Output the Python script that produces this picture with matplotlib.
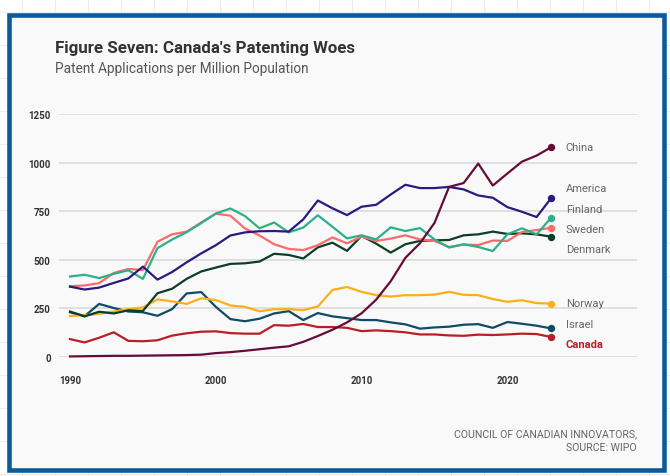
import matplotlib
matplotlib.use('Agg')
import matplotlib.pyplot as plt
from matplotlib.patches import Rectangle

plt.rcParams['font.family'] = ['Roboto', 'DejaVu Sans']

# Patent applications per million population, 1990-2023
years = list(range(1990, 2024))
china = [3, 4, 5, 6, 6, 7, 8, 9, 10, 12, 20, 25, 32, 40, 48, 55, 78, 108, 140, 178,
         225, 295, 390, 510, 585, 690, 875, 895, 995, 882, 944, 1005, 1036, 1079]
america = [362, 347, 357, 381, 404, 465, 398, 437, 487, 533, 575, 625, 641, 647, 648, 645, 708,
           805, 765, 730, 773, 783, 836, 886, 869, 869, 875, 862, 831, 819, 771, 747, 720, 817]
finland = [414, 423, 406, 428, 446, 402, 560, 604, 642, 689, 738, 764, 725, 662, 692, 641, 666,
           729, 670, 610, 626, 605, 667, 648, 663, 605, 563, 580, 566, 545, 631, 662, 631, 716]
sweden = [364, 368, 380, 432, 453, 447, 593, 631, 645, 692, 737, 727, 661, 625, 580, 556, 550,
          575, 615, 585, 619, 597, 609, 626, 605, 597, 566, 578, 576, 599, 597, 643, 653, 665]
denmark = [234, 209, 233, 224, 240, 237, 328, 351, 402, 440, 460, 479, 482, 491, 531, 525, 507,
           564, 588, 546, 623, 583, 537, 580, 597, 600, 602, 626, 631, 645, 633, 636, 631, 619]
norway = [211, 215, 222, 234, 246, 255, 296, 286, 273, 302, 293, 265, 258, 235, 246, 246, 241,
          260, 345, 360, 335, 318, 311, 318, 318, 321, 335, 320, 318, 298, 284, 292, 277, 275]
israel = [230, 210, 273, 252, 234, 230, 212, 246, 327, 334, 258, 195, 184, 197, 224, 236, 190,
          226, 209, 200, 190, 190, 178, 168, 146, 152, 156, 166, 169, 150, 180, 171, 161, 147]
canada = [92, 75, 99, 127, 83, 81, 86, 110, 122, 130, 132, 123, 120, 120, 164, 161, 170,
          154, 154, 150, 133, 137, 133, 127, 116, 116, 111, 109, 115, 113, 116, 120, 118, 103]

series = [
    ('China', china, '#650d38', 1080),
    ('America', america, '#2b1a7e', 869),
    ('Finland', finland, '#2cb08a', 761),
    ('Sweden', sweden, '#fb6b6b', 658),
    ('Denmark', denmark, '#0e3d26', 556),
    ('Norway', norway, '#fbb018', 278),
    ('Israel', israel, '#0f4b66', 170),
    ('Canada', canada, '#b81f25', 67),
]

W, H = 670, 477
fig = plt.figure(figsize=(W / 100, H / 100), dpi=100)
fig.patch.set_facecolor('white')

# page background with the framed card
bg = fig.add_axes([0, 0, 1, 1])
bg.set_xlim(0, W)
bg.set_ylim(H, 0)
bg.axis('off')
for gx in range(22, W, 33):
    bg.axvline(gx, color='#ececec', lw=0.8, zorder=0)
for gy in range(13, H, 33):
    bg.axhline(gy, color='#ececec', lw=0.8, zorder=0)
bg.add_patch(Rectangle((9.2, 16), 655, 455, facecolor='#f9f9f9',
                       edgecolor='#0b5a9a', lw=3.3, zorder=1))

bg.text(55, 48, "Figure Seven: Canada's Patenting Woes", fontsize=12.2,
        fontweight='bold', color='#333333', va='center', ha='left', zorder=2)
bg.text(55, 69, 'Patent Applications per Million Population', fontsize=9.8,
        color='#555555', va='center', ha='left', zorder=2)
bg.text(637, 441, 'COUNCIL OF CANADIAN INNOVATORS,\nSOURCE: WIPO', fontsize=7.6,
        color='#666666', va='center', ha='right', linespacing=1.5, zorder=2)

# chart
ax = fig.add_axes([59 / W, 1 - 358 / H, (637 - 59) / W, (358 - 115) / H])
ax.set_facecolor('none')
for s in ax.spines.values():
    s.set_visible(False)
ax.set_xlim(1990 - 11 / 14.58, 1990 + (637 - 70) / 14.58)
ax.set_ylim(0, 1250)
ax.set_yticks([0, 250, 500, 750, 1000, 1250])
ax.set_xticks([1990, 2000, 2010, 2020])
ax.grid(axis='y', color='#dadada', lw=1.2)
ax.set_axisbelow(True)
ax.tick_params(axis='y', length=0, pad=6, labelsize=7, labelcolor='#333333')
ax.tick_params(axis='x', length=0, pad=13, labelsize=7, labelcolor='#333333')
for lab in ax.get_xticklabels() + ax.get_yticklabels():
    lab.set_fontweight('bold')

for name, vals, color, label_y in reversed(series):
    ax.plot(years, vals, color=color, lw=1.6, clip_on=False, zorder=3)
    ax.plot(years[-1], vals[-1], 'o', color=color, ms=4.3, clip_on=False, zorder=4)
    if name == 'Canada':
        ax.text(years[-1] + 1, label_y, name, color=color, fontsize=8,
                fontweight='bold', va='center', ha='left')
    else:
        ax.text(years[-1] + 1, label_y, name, color='#666666', fontsize=8,
                va='center', ha='left')

fig.savefig('out.png', dpi=100, facecolor=fig.get_facecolor())
